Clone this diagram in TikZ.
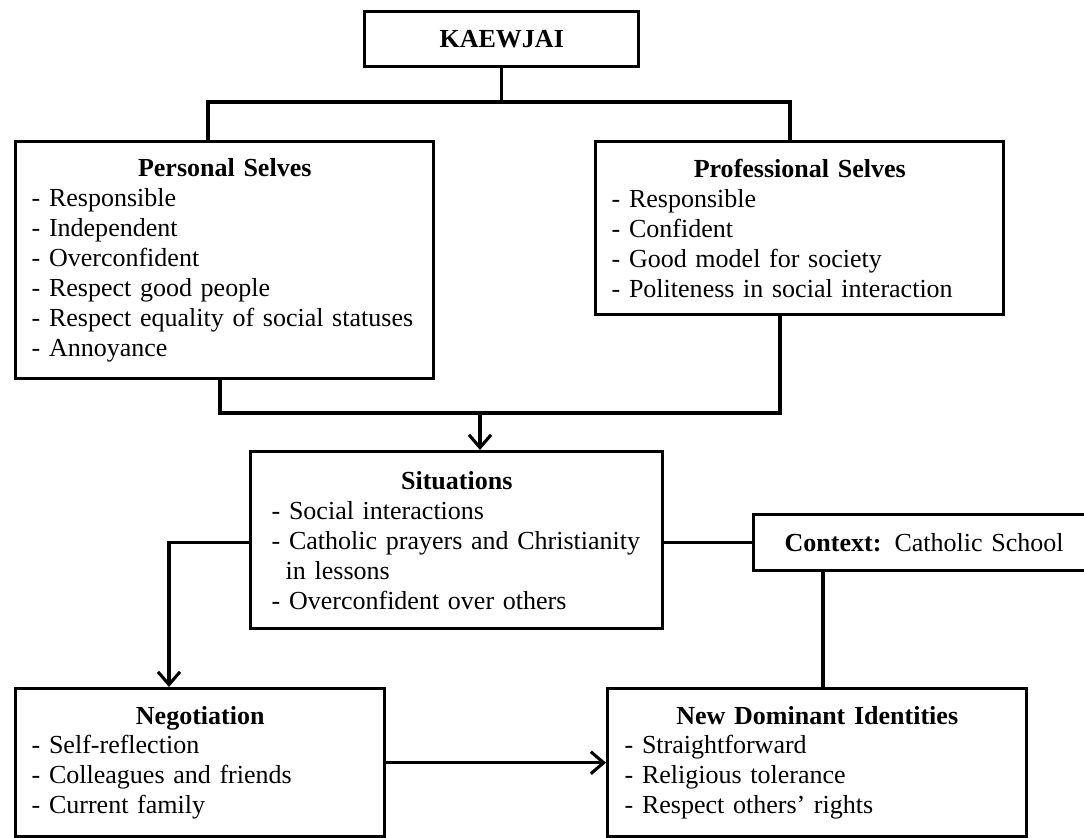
\documentclass[tikz,border=0pt]{standalone}
\usepackage{fontspec}
\setmainfont{Liberation Serif}
\usetikzlibrary{arrows.meta}

\begin{document}
\begin{tikzpicture}[
    x=0.025cm, y=-0.025cm,
    every node/.style={font=\fontsize{18.5}{21.3}\selectfont},
    panel/.style={draw, line width=2.4pt, anchor=north west, align=left, inner xsep=0.4cm, inner ysep=0pt},
    headbox/.style={draw, line width=2.4pt, anchor=north west, align=center, font=\fontsize{18.5}{21.3}\selectfont\bfseries},
    link/.style={line width=2.4pt},
    flow/.style={line width=2.4pt, -{Straight Barb[length=0.32cm, width=0.55cm, line width=2.2pt]}},
]
\useasboundingbox (0,0) rectangle (1084,837);

% Top
\node[headbox, minimum width=6.85cm, minimum height=1.375cm] (kaewjai) at (363,10) {KAEWJAI};

% Selves
\node[panel, text width=9.65cm, minimum height=5.925cm] (personal) at (14,140) {{\centering\textbf{Personal Selves}\par}
- Responsible\\
- Independent\\
- Overconfident\\
- Respect good people\\
- Respect equality of social statuses\\
- Annoyance};
\node[panel, text width=9.4cm, minimum height=4.325cm] (professional) at (594,140) {{\centering\textbf{Professional Selves}\par}
- Responsible\\
- Confident\\
- Good model for society\\
- Politeness in social interaction};

% Situations and context
\node[panel, inner xsep=0.525cm, text width=9.25cm, minimum height=4.425cm] (situations) at (249,450) {{\centering\textbf{Situations}\par}
- Social interactions\\
- Catholic prayers and Christianity\\
\hspace*{0.35cm}in lessons\\
- Overconfident over others};
\node[panel, inner xsep=0.775cm, text width=9cm, minimum height=1.4cm] (context) at (752,513) {\textbf{Context:} Catholic School};

% Outcomes
\node[panel, text width=8.425cm, minimum height=3.7cm] (negotiation) at (14,687) {{\centering\textbf{Negotiation}\par}
- Self-reflection\\
- Colleagues and friends\\
- Current family};
\node[panel, inner xsep=0.425cm, text width=9.625cm, minimum height=3.7cm] (newid) at (606,687) {{\centering\textbf{New Dominant Identities}\par}
- Straightforward\\
- Religious tolerance\\
- Respect others' rights};

% Junctions
\coordinate (pl) at (208,102);
\coordinate (pr) at (790,102);
\coordinate (ml) at (220,413);
\coordinate (mr) at (780,413);
\coordinate (mm) at (480,413);
\coordinate (cx) at (823,600);
\coordinate (nx) at (169,600);

% Connectors
\draw[link] (kaewjai.south) -- (kaewjai.south |- pl);
\draw[link] (personal.north -| pl) -- (pl) -- (pr) -- (professional.north -| pr);
\draw[link] (personal.south -| ml) -- (ml) -- (mr) -- (professional.south -| mr);
\draw[flow] (mm) -- (situations.north -| mm);
\draw[link] (situations.east |- context.west) -- (context.west);
\draw[link] (context.south -| cx) -- (newid.north -| cx);
\draw[flow] (situations.west |- context.west) -| (negotiation.north -| nx);
\draw[flow] (negotiation.east) -- (newid.west);

\end{tikzpicture}
\end{document}
